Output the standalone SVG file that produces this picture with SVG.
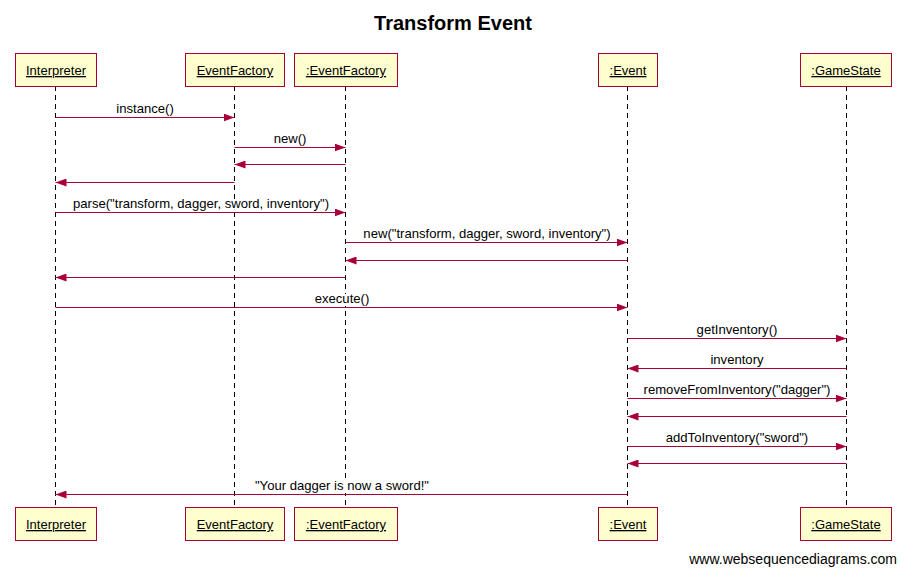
<svg xmlns="http://www.w3.org/2000/svg" width="906" height="574" viewBox="0 0 906 574">
<defs>
<marker id="ah" markerWidth="12" markerHeight="8" refX="11" refY="4" orient="auto" markerUnits="userSpaceOnUse">
<path d="M0,0 L11,4 L0,8 Z" fill="#A80036"/>
</marker>
<style>
.box{fill:#FEFECE;stroke:#A80036;stroke-width:1}
.bt{font-family:"Liberation Sans",Arial,sans-serif;font-size:13px;text-anchor:middle;text-decoration:underline;fill:#000}
.life{stroke:#000;stroke-width:1;stroke-dasharray:5,4;fill:none}
.msg{stroke:#A80036;stroke-width:1;fill:none;marker-end:url(#ah)}
.ml{font-family:"Liberation Sans",Arial,sans-serif;font-size:13.1px;text-anchor:middle;fill:#000}
.bg{fill:#fff;stroke:none}
</style>
</defs>
<rect width="906" height="574" fill="#fff"/>
<text x="453" y="30" font-family="Liberation Sans,Arial,sans-serif" font-size="20" font-weight="bold" text-anchor="middle">Transform Event</text>
<g id="lifelines">
<line class="life" x1="55.5" y1="86" x2="55.5" y2="507"/>
<line class="life" x1="234.5" y1="86" x2="234.5" y2="507"/>
<line class="life" x1="345.5" y1="86" x2="345.5" y2="507"/>
<line class="life" x1="627.5" y1="86" x2="627.5" y2="507"/>
<line class="life" x1="846.5" y1="86" x2="846.5" y2="507"/>
</g>
<g id="node-interpreter">
<rect class="box" x="15.5" y="53.5" width="81" height="33"/>
<text class="bt" x="56" y="75">Interpreter</text>
<rect class="box" x="15.5" y="507.5" width="81" height="33"/>
<text class="bt" x="56" y="529">Interpreter</text>
</g>
<g id="node-eventfactory">
<rect class="box" x="185.5" y="53.5" width="99" height="33"/>
<text class="bt" x="235" y="75">EventFactory</text>
<rect class="box" x="185.5" y="507.5" width="99" height="33"/>
<text class="bt" x="235" y="529">EventFactory</text>
</g>
<g id="node-eventfactory-inst">
<rect class="box" x="294.5" y="53.5" width="103" height="33"/>
<text class="bt" x="346" y="75">:EventFactory</text>
<rect class="box" x="294.5" y="507.5" width="103" height="33"/>
<text class="bt" x="346" y="529">:EventFactory</text>
</g>
<g id="node-event">
<rect class="box" x="598.5" y="53.5" width="59" height="33"/>
<text class="bt" x="628" y="75">:Event</text>
<rect class="box" x="598.5" y="507.5" width="59" height="33"/>
<text class="bt" x="628" y="529">:Event</text>
</g>
<g id="node-gamestate">
<rect class="box" x="800.5" y="53.5" width="91" height="33"/>
<text class="bt" x="846" y="75">:GameState</text>
<rect class="box" x="800.5" y="507.5" width="91" height="33"/>
<text class="bt" x="846" y="529">:GameState</text>
</g>
<g id="connectors">
<line class="msg" x1="55.5" y1="117.5" x2="234.5" y2="117.5"/>
<text class="ml" x="145" y="113">instance()</text>
<line class="msg" x1="234.5" y1="147.5" x2="345.5" y2="147.5"/>
<text class="ml" x="290" y="143">new()</text>
<line class="msg" x1="345.5" y1="164.5" x2="234.5" y2="164.5"/>
<line class="msg" x1="234.5" y1="182.5" x2="55.5" y2="182.5"/>
<line class="msg" x1="55.5" y1="212.5" x2="345.5" y2="212.5"/>
<rect class="bg" x="71" y="199" width="261" height="12"/>
<text class="ml" x="201" y="208">parse("transform, dagger, sword, inventory")</text>
<line class="msg" x1="345.5" y1="242.5" x2="627.5" y2="242.5"/>
<text class="ml" x="487" y="238">new("transform, dagger, sword, inventory")</text>
<line class="msg" x1="627.5" y1="260.5" x2="345.5" y2="260.5"/>
<line class="msg" x1="345.5" y1="277.5" x2="55.5" y2="277.5"/>
<line class="msg" x1="55.5" y1="307.5" x2="627.5" y2="307.5"/>
<rect class="bg" x="313" y="294" width="58" height="12"/>
<text class="ml" x="342" y="303">execute()</text>
<line class="msg" x1="627.5" y1="338.5" x2="846.5" y2="338.5"/>
<text class="ml" x="737" y="334">getInventory()</text>
<line class="msg" x1="846.5" y1="368.5" x2="627.5" y2="368.5"/>
<text class="ml" x="737" y="364">inventory</text>
<line class="msg" x1="627.5" y1="398.5" x2="846.5" y2="398.5"/>
<text class="ml" x="737" y="394">removeFromInventory("dagger")</text>
<line class="msg" x1="846.5" y1="416.5" x2="627.5" y2="416.5"/>
<line class="msg" x1="627.5" y1="446.5" x2="846.5" y2="446.5"/>
<text class="ml" x="737" y="442">addToInventory("sword")</text>
<line class="msg" x1="846.5" y1="463.5" x2="627.5" y2="463.5"/>
<line class="msg" x1="627.5" y1="494.5" x2="55.5" y2="494.5"/>
<rect class="bg" x="251" y="479" width="188" height="14"/>
<text class="ml" x="342" y="490">"Your dagger is now a sword!"</text>
</g>
<text x="897" y="564" font-family="Liberation Sans,Arial,sans-serif" font-size="14" text-anchor="end">www.websequencediagrams.com</text>
</svg>
